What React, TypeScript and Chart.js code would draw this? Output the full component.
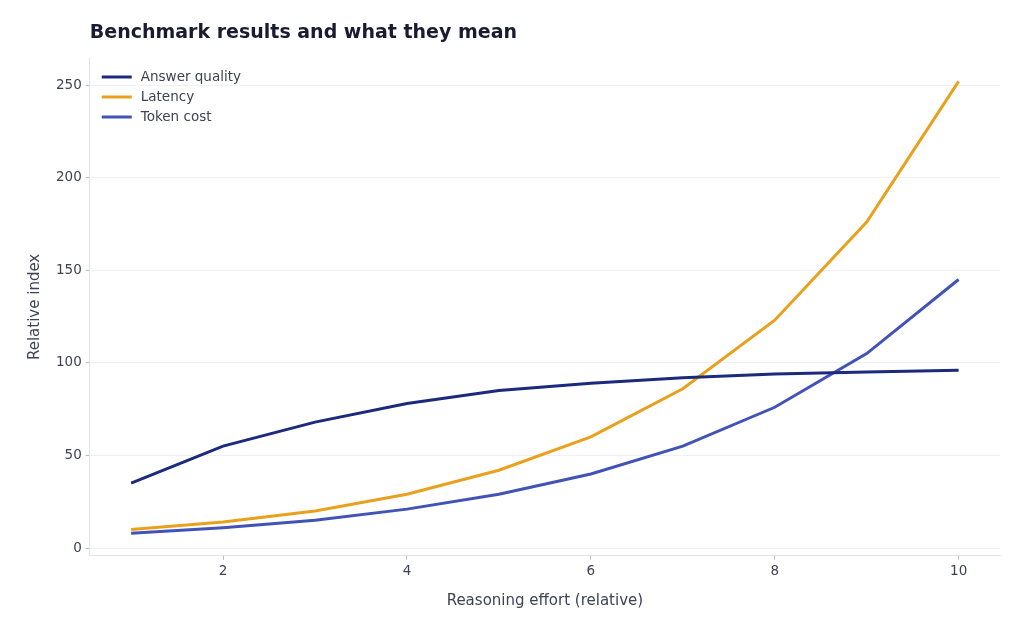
import React, { useEffect, useRef } from "react";
import { Chart, registerables } from "chart.js";

Chart.register(...registerables);

const effort = [1, 2, 3, 4, 5, 6, 7, 8, 9, 10];
const answerQuality = [35, 55, 68, 78, 85, 89, 92, 94, 95, 96];
const latency = [10, 14, 20, 29, 42, 60, 86, 123, 176, 252];
const tokenCost = [8, 11, 15, 21, 29, 40, 55, 76, 105, 145];
const xTicks = [2, 4, 6, 8, 10];
const yTicks = [0, 50, 100, 150, 200, 250];

const seriesNames = ["Answer quality", "Latency", "Token cost"];
const seriesColors = ["#1c2a7d", "#e9a01c", "#4253b8"];

const FONT = "'DejaVu Sans', sans-serif";
const TITLE = "Benchmark results and what they mean";

const headerPlugin = {
  id: "headerAndLegend",
  afterDraw(chart: any) {
    const { ctx, chartArea } = chart;
    ctx.save();
    ctx.fillStyle = "#181c30";
    ctx.font = `bold 19px ${FONT}`;
    ctx.textBaseline = "middle";
    ctx.textAlign = "left";
    ctx.fillText(TITLE, chartArea.left, 33);

    // legend in the upper-left corner of the plot
    ctx.font = `13.5px ${FONT}`;
    chart.data.datasets.forEach((ds: any, i: number) => {
      const y = chartArea.top + 19 + i * 20;
      ctx.strokeStyle = ds.borderColor;
      ctx.lineWidth = 3;
      ctx.beginPath();
      ctx.moveTo(chartArea.left + 12, y);
      ctx.lineTo(chartArea.left + 42, y);
      ctx.stroke();
      ctx.fillStyle = "#3e4252";
      ctx.fillText(ds.label, chartArea.left + 51, y);
    });
    ctx.restore();
  },
};

export default function App() {
  const ref = useRef<HTMLCanvasElement>(null);

  useEffect(() => {
    document.body.style.margin = "0";
    const canvas = ref.current;
    if (!canvas) return;
    const datasets = [answerQuality, latency, tokenCost].map((vals, i) => ({
      label: seriesNames[i],
      data: effort.map((x, j) => ({ x, y: vals[j] })),
      borderColor: seriesColors[i],
      backgroundColor: seriesColors[i],
      borderWidth: 3,
      pointRadius: 0,
      tension: 0,
      fill: false,
    }));
    const chart = new Chart(canvas, {
      type: "line",
      data: { datasets },
      plugins: [headerPlugin],
      options: {
        responsive: false,
        animation: false,
        layout: { padding: { top: 58, right: 24, bottom: 21, left: 26 } },
        plugins: {
          legend: { display: false },
          title: { display: false },
          tooltip: { enabled: false },
        },
        scales: {
          x: {
            type: "linear",
            min: 0.55,
            max: 10.45,
            afterBuildTicks: (axis: any) => {
              axis.ticks = xTicks.map((v) => ({ value: v }));
            },
            grid: {
              drawOnChartArea: false,
              drawTicks: true,
              tickLength: 4,
              color: "#b8bbc2",
            },
            border: { display: true, color: "#e3e4e8", width: 1 },
            ticks: {
              color: "#3e4252",
              font: { family: FONT, size: 13.5 },
              padding: 4,
              maxRotation: 0,
            },
            title: {
              display: true,
              text: "Reasoning effort (relative)",
              color: "#3e4252",
              font: { family: FONT, size: 15 },
              padding: { top: 8, bottom: 0 },
            },
          },
          y: {
            type: "linear",
            min: -4.2,
            max: 264.6,
            afterBuildTicks: (axis: any) => {
              axis.ticks = yTicks.map((v) => ({ value: v }));
            },
            grid: {
              drawOnChartArea: true,
              drawTicks: true,
              tickLength: 4,
              color: (c: any) => (c.type === "tick" ? "#eff0f2" : "#eff0f2"),
              tickColor: "#b8bbc2",
            },
            border: { display: true, color: "#e3e4e8", width: 1 },
            ticks: {
              color: "#3e4252",
              font: { family: FONT, size: 13.5 },
              padding: 4,
            },
            title: {
              display: true,
              text: "Relative index",
              color: "#3e4252",
              font: { family: FONT, size: 15 },
              padding: { top: 0, bottom: 8 },
            },
          },
        },
      },
    });
    return () => chart.destroy();
  }, []);

  return (
    <div style={{ position: "absolute", left: 0, top: 0, width: 1024, height: 631, background: "#ffffff" }}>
      <canvas ref={ref} width={1024} height={631} style={{ display: "block" }} />
    </div>
  );
}
